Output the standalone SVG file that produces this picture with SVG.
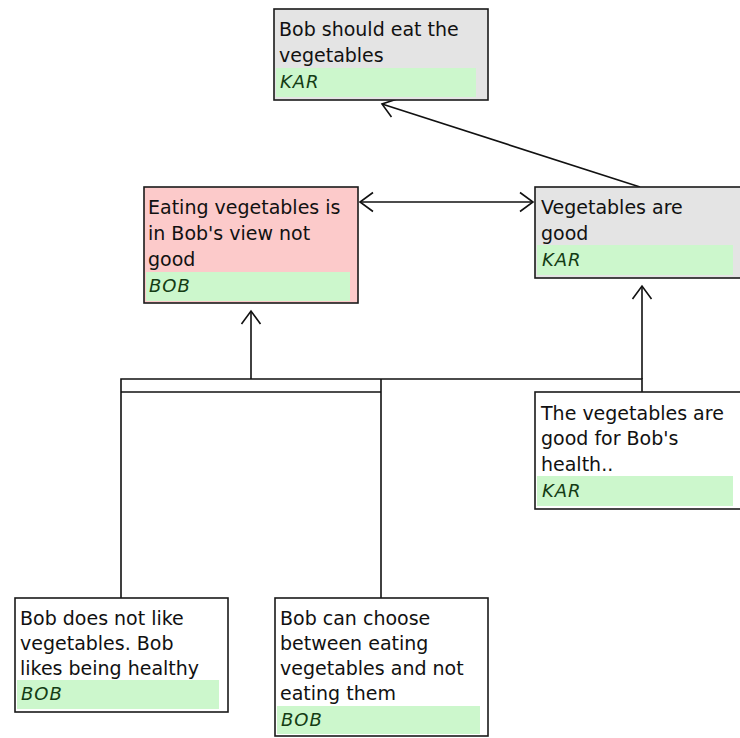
<svg xmlns="http://www.w3.org/2000/svg" width="740" height="738" viewBox="0 0 740 738">
<style>
.box{stroke:#1a1a1a;stroke-width:1.6}
.gray{fill:#e4e4e4}
.pink{fill:#fccaca}
.white{fill:#ffffff}
.bar{fill:#ccf7cc}
.t{font-family:"DejaVu Sans",Verdana,sans-serif;font-size:19px;fill:#111}
.who{font-family:"DejaVu Sans",Verdana,sans-serif;font-size:18px;font-style:italic;fill:#143c14;letter-spacing:1px}
.ln{stroke:#111;stroke-width:1.6;fill:none}
</style>
<defs>
<marker id="arr" markerUnits="userSpaceOnUse" markerWidth="30" markerHeight="30" viewBox="-15 -15 30 30" refX="0" refY="0" orient="auto-start-reverse" overflow="visible">
<path d="M-13,-9.5 L0,0 L-13,9.5" fill="none" stroke="#111" stroke-width="1.6"/>
</marker>
</defs>
<rect width="740" height="738" fill="#ffffff"/>
<g id="connectors">
<line class="ln" x1="640" y1="187" x2="382" y2="104" marker-end="url(#arr)"/>
<line class="ln" x1="360" y1="202" x2="533" y2="202" marker-start="url(#arr)" marker-end="url(#arr)"/>
<line class="ln" x1="251" y1="379" x2="251" y2="311" marker-end="url(#arr)"/>
<line class="ln" x1="642" y1="379" x2="642" y2="286" marker-end="url(#arr)"/>
<polyline class="ln" points="121,598 121,379 642,379 642,392"/>
<line class="ln" x1="121" y1="392" x2="381" y2="392"/>
<line class="ln" x1="381" y1="379" x2="381" y2="598"/>
</g>
<g id="node-top">
<rect class="box gray" x="274" y="9" width="214" height="91"/>
<rect class="bar" x="276" y="68" width="200" height="29"/>
<text class="t" x="279" y="36">Bob should eat the</text>
<text class="t" x="279" y="62">vegetables</text>
<text class="who" x="280" y="88">KAR</text>
</g>
<g id="node-bobview">
<rect class="box pink" x="144" y="187" width="214" height="116"/>
<rect class="bar" x="146" y="272" width="204" height="29"/>
<text class="t" x="148" y="214">Eating vegetables is</text>
<text class="t" x="148" y="240">in Bob's view not</text>
<text class="t" x="148" y="266">good</text>
<text class="who" x="149" y="292">BOB</text>
</g>
<g id="node-vegood">
<rect class="box gray" x="535" y="187" width="214" height="91"/>
<rect class="bar" x="537" y="245" width="196" height="30"/>
<text class="t" x="541" y="214">Vegetables are</text>
<text class="t" x="541" y="240">good</text>
<text class="who" x="542" y="266">KAR</text>
</g>
<g id="node-health">
<rect class="box white" x="535" y="392" width="214" height="117"/>
<rect class="bar" x="537" y="476" width="196" height="30"/>
<text class="t" x="541" y="420">The vegetables are</text>
<text class="t" x="541" y="445">good for Bob's</text>
<text class="t" x="541" y="471">health..</text>
<text class="who" x="542" y="497">KAR</text>
</g>
<g id="node-dislike">
<rect class="box white" x="15" y="598" width="213" height="114"/>
<rect class="bar" x="17" y="680" width="202" height="29"/>
<text class="t" x="20" y="625">Bob does not like</text>
<text class="t" x="20" y="650">vegetables. Bob</text>
<text class="t" x="20" y="675">likes being healthy</text>
<text class="who" x="21" y="700">BOB</text>
</g>
<g id="node-choose">
<rect class="box white" x="275" y="598" width="213" height="138"/>
<rect class="bar" x="277" y="706" width="203" height="28"/>
<text class="t" x="280" y="625">Bob can choose</text>
<text class="t" x="280" y="650">between eating</text>
<text class="t" x="280" y="675">vegetables and not</text>
<text class="t" x="280" y="700">eating them</text>
<text class="who" x="281" y="726">BOB</text>
</g>
</svg>
